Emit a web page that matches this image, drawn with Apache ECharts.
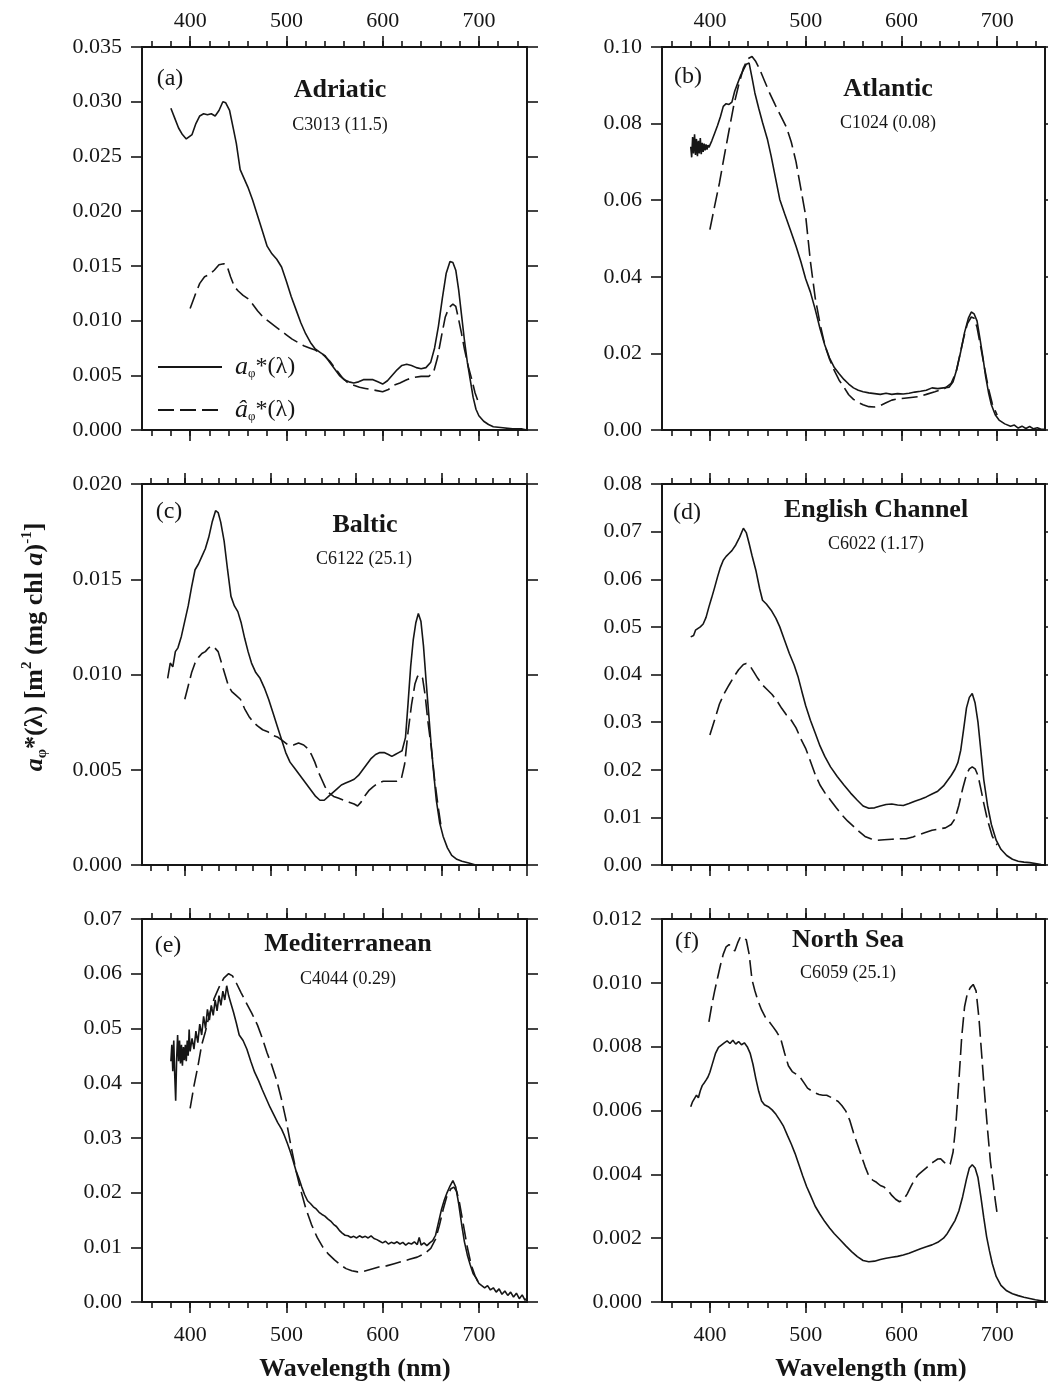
<!DOCTYPE html>
<html>
<head>
<meta charset="UTF-8">
<script src="https://cdn.jsdelivr.net/npm/echarts@6.0.0/dist/echarts.min.js"></script>
<style>
    html, body {margin: 0; padding: 0; background: #fff;}
    #chart {width: 1048px; height: 1383px;}
</style>
</head>
<body>
<div id="chart"></div>
<script>
    /* spectra: [wavelength nm, value] */
    var adriaticMeasured = [[380,0.0294],[384,0.0285],[388,0.0276],[392,0.0270],[396,0.0266],[398,0.0265],[402,0.0270],[406,0.0280],[410,0.0287],[414,0.0289],[418,0.0288],[422,0.0289],[426,0.0287],[430,0.0292],[434,0.0300],[437,0.0299],[441,0.0292],[445,0.0275],[448,0.0262],[452,0.0238],[456,0.0230],[460,0.0222],[465,0.0210],[470,0.0196],[475,0.0182],[480,0.0168],[485,0.0161],[490,0.0156],[495,0.0149],[500,0.0136],[505,0.0122],[510,0.0110],[515,0.0098],[520,0.0088],[525,0.0080],[530,0.0074],[535,0.0071],[540,0.0068],[545,0.0062],[550,0.0056],[555,0.0050],[560,0.0046],[565,0.0044],[570,0.0043],[575,0.0044],[580,0.0046],[585,0.0046],[590,0.0046],[595,0.0044],[600,0.0042],[605,0.0045],[610,0.0050],[615,0.0055],[620,0.0059],[625,0.0060],[630,0.0059],[635,0.0057],[640,0.0056],[645,0.0057],[650,0.0062],[654,0.0075],[658,0.0095],[662,0.0120],[666,0.0143],[670,0.0154],[673,0.0153],[676,0.0146],[679,0.0128],[682,0.0105],[685,0.0082],[688,0.0062],[691,0.0046],[694,0.0030],[697,0.0019],[700,0.0013],[705,0.0008],[710,0.0005],[715,0.0003],[725,0.0002],[735,0.0001],[745,0.0001],[750,0.0000]];
    var adriaticModeled = [[400,0.0111],[405,0.0123],[410,0.0134],[415,0.0140],[420,0.0142],[425,0.0146],[430,0.0151],[435,0.0152],[438,0.0151],[442,0.0140],[446,0.0131],[450,0.0127],[455,0.0123],[460,0.0120],[465,0.0115],[470,0.0109],[476,0.0103],[482,0.0099],[488,0.0095],[494,0.0091],[500,0.0087],[506,0.0083],[512,0.0080],[518,0.0077],[524,0.0075],[530,0.0073],[538,0.0069],[545,0.0063],[552,0.0055],[558,0.0048],[564,0.0043],[570,0.0041],[576,0.0039],[582,0.0038],[588,0.0037],[594,0.0036],[600,0.0035],[606,0.0037],[612,0.0041],[618,0.0043],[625,0.0046],[632,0.0048],[640,0.0049],[648,0.0049],[653,0.0053],[657,0.0066],[661,0.0085],[665,0.0103],[669,0.0112],[673,0.0115],[676,0.0113],[679,0.0101],[682,0.0088],[685,0.0074],[689,0.0058],[693,0.0045],[696,0.0034],[700,0.0024]];

    var atlanticMeasured = [[380,0.0740],[381,0.0712],[382,0.0765],[383,0.0722],[384,0.0772],[385,0.0718],[386,0.0760],[387,0.0715],[388,0.0755],[389,0.0722],[390,0.0762],[391,0.0720],[392,0.0750],[393,0.0726],[394,0.0748],[395,0.0730],[396,0.0746],[397,0.0732],[398,0.0744],[399,0.0738],[402,0.0755],[405,0.0775],[408,0.0795],[411,0.0818],[414,0.0845],[417,0.0852],[420,0.0850],[423,0.0856],[426,0.0885],[429,0.0905],[432,0.0925],[435,0.0940],[438,0.0955],[441,0.0958],[444,0.0920],[447,0.0880],[451,0.0840],[455,0.0803],[460,0.0760],[464,0.0715],[468,0.0665],[473,0.0602],[478,0.0565],[484,0.0523],[490,0.0480],[495,0.0440],[500,0.0395],[505,0.0360],[510,0.0315],[515,0.0265],[520,0.0222],[525,0.0188],[530,0.0163],[535,0.0147],[540,0.0132],[545,0.0120],[550,0.0110],[555,0.0104],[560,0.0100],[566,0.0097],[572,0.0095],[578,0.0093],[584,0.0096],[590,0.0093],[596,0.0095],[602,0.0094],[608,0.0096],[614,0.0099],[620,0.0101],[626,0.0104],[632,0.0110],[638,0.0108],[644,0.0110],[650,0.0112],[654,0.0126],[658,0.0160],[662,0.0205],[666,0.0255],[670,0.0292],[673,0.0308],[676,0.0303],[679,0.0285],[682,0.0240],[685,0.0192],[688,0.0140],[691,0.0098],[694,0.0066],[698,0.0040],[702,0.0026],[708,0.0016],[714,0.0010],[718,0.0013],[722,0.0005],[726,0.0010],[730,0.0004],[734,0.0009],[738,0.0003],[742,0.0006],[746,0.0002],[750,0.0002]];
    var atlanticModeled = [[400,0.0523],[405,0.0585],[410,0.0645],[415,0.0715],[420,0.0782],[425,0.0848],[430,0.0900],[435,0.0945],[440,0.0970],[444,0.0975],[448,0.0962],[452,0.0942],[457,0.0912],[462,0.0882],[468,0.0850],[474,0.0820],[480,0.0790],[485,0.0752],[490,0.0700],[495,0.0630],[500,0.0560],[505,0.0440],[510,0.0345],[515,0.0278],[520,0.0222],[525,0.0185],[530,0.0155],[535,0.0130],[540,0.0112],[545,0.0092],[550,0.0080],[555,0.0072],[560,0.0066],[566,0.0061],[572,0.0060],[578,0.0064],[584,0.0071],[590,0.0078],[596,0.0081],[603,0.0083],[610,0.0085],[618,0.0087],[626,0.0093],[635,0.0100],[645,0.0108],[652,0.0122],[657,0.0150],[661,0.0195],[665,0.0240],[669,0.0278],[673,0.0295],[676,0.0292],[679,0.0268],[683,0.0215],[687,0.0160],[691,0.0108],[695,0.0068],[700,0.0039]];

    var balticMeasured = [[380,0.0098],[383,0.0106],[386,0.0104],[389,0.0112],[392,0.0114],[396,0.0120],[400,0.0128],[404,0.0136],[408,0.0146],[412,0.0155],[416,0.0158],[420,0.0162],[424,0.0166],[428,0.0172],[432,0.0180],[436,0.0186],[439,0.0185],[442,0.0180],[446,0.0170],[450,0.0155],[454,0.0141],[458,0.0136],[462,0.0133],[466,0.0127],[470,0.0119],[474,0.0112],[478,0.0106],[483,0.0101],[488,0.0098],[493,0.0093],[498,0.0087],[503,0.0080],[508,0.0073],[513,0.0066],[518,0.0059],[523,0.0054],[528,0.0051],[533,0.0048],[538,0.0045],[543,0.0042],[548,0.0039],[553,0.0036],[558,0.0034],[563,0.0034],[568,0.0036],[573,0.0038],[578,0.0040],[583,0.0042],[588,0.0043],[593,0.0044],[598,0.0045],[603,0.0047],[608,0.0050],[613,0.0053],[618,0.0056],[623,0.0058],[628,0.0059],[633,0.0059],[638,0.0058],[642,0.0057],[646,0.0058],[650,0.0059],[654,0.0060],[658,0.0067],[661,0.0085],[664,0.0104],[667,0.0118],[670,0.0127],[673,0.0132],[676,0.0128],[679,0.0115],[682,0.0097],[685,0.0080],[688,0.0063],[691,0.0048],[694,0.0034],[698,0.0022],[702,0.0015],[707,0.0009],[712,0.0005],[718,0.0003],[724,0.0002],[732,0.0001],[740,0.0000],[748,0.0000]];
    var balticModeled = [[400,0.0087],[404,0.0094],[408,0.0101],[412,0.0106],[416,0.0109],[420,0.0111],[424,0.0112],[428,0.0114],[431,0.0115],[435,0.0114],[439,0.0112],[443,0.0106],[447,0.0100],[451,0.0094],[455,0.0091],[460,0.0089],[465,0.0087],[470,0.0082],[475,0.0078],[480,0.0075],[485,0.0073],[491,0.0071],[497,0.0070],[503,0.0068],[509,0.0067],[515,0.0065],[521,0.0063],[527,0.0063],[533,0.0064],[539,0.0063],[544,0.0061],[548,0.0058],[552,0.0054],[556,0.0049],[560,0.0045],[564,0.0041],[568,0.0038],[574,0.0036],[580,0.0035],[586,0.0034],[592,0.0033],[598,0.0032],[602,0.0031],[606,0.0033],[610,0.0036],[615,0.0039],[620,0.0041],[626,0.0043],[632,0.0044],[638,0.0044],[643,0.0044],[648,0.0044],[653,0.0045],[657,0.0053],[661,0.0070],[665,0.0084],[669,0.0095],[672,0.0099],[675,0.0100],[678,0.0098],[681,0.0089],[684,0.0076],[688,0.0062],[692,0.0045],[696,0.0031],[700,0.0019]];

    var channelMeasured = [[380,0.0479],[383,0.0482],[385,0.0493],[387,0.0490],[390,0.0500],[393,0.0506],[396,0.0520],[399,0.0542],[402,0.0562],[405,0.0583],[408,0.0605],[411,0.0625],[414,0.0640],[417,0.0648],[420,0.0654],[423,0.0660],[427,0.0672],[431,0.0688],[435,0.0707],[438,0.0698],[441,0.0675],[444,0.0650],[448,0.0619],[452,0.0580],[455,0.0556],[459,0.0548],[464,0.0535],[469,0.0518],[473,0.0500],[478,0.0472],[483,0.0444],[488,0.0420],[492,0.0396],[496,0.0365],[500,0.0335],[505,0.0304],[510,0.0277],[515,0.0250],[520,0.0228],[526,0.0206],[533,0.0186],[540,0.0168],[547,0.0151],[554,0.0136],[560,0.0124],[566,0.0119],[572,0.0120],[578,0.0124],[584,0.0127],[590,0.0128],[596,0.0126],[602,0.0125],[608,0.0129],[614,0.0134],[620,0.0138],[626,0.0143],[632,0.0149],[638,0.0155],[644,0.0166],[648,0.0177],[652,0.0188],[656,0.0201],[659,0.0215],[662,0.0241],[665,0.0285],[668,0.0330],[671,0.0352],[674,0.0360],[677,0.0340],[680,0.0300],[683,0.0240],[686,0.0180],[690,0.0125],[694,0.0085],[699,0.0052],[704,0.0033],[710,0.0020],[716,0.0012],[722,0.0008],[728,0.0006],[734,0.0005],[740,0.0003],[746,0.0001],[750,0.0000]];
    var channelModeled = [[400,0.0273],[405,0.0305],[410,0.0338],[415,0.0360],[420,0.0378],[425,0.0395],[430,0.0410],[435,0.0421],[438,0.0423],[442,0.0418],[446,0.0405],[450,0.0392],[455,0.0378],[460,0.0368],[465,0.0358],[470,0.0345],[475,0.0329],[480,0.0315],[485,0.0304],[490,0.0288],[495,0.0265],[500,0.0245],[505,0.0218],[510,0.0190],[515,0.0168],[520,0.0152],[526,0.0136],[532,0.0120],[538,0.0105],[544,0.0092],[550,0.0081],[556,0.0070],[562,0.0060],[568,0.0055],[575,0.0052],[582,0.0053],[590,0.0054],[598,0.0055],[605,0.0055],[612,0.0059],[618,0.0063],[625,0.0068],[632,0.0073],[640,0.0076],[646,0.0078],[652,0.0085],[656,0.0097],[660,0.0125],[664,0.0160],[668,0.0190],[671,0.0202],[674,0.0206],[677,0.0202],[680,0.0188],[683,0.0160],[686,0.0130],[690,0.0094],[695,0.0060],[700,0.0042]];

    var mediterraneanMeasured = [[380,0.0440],[381,0.0470],[382,0.0422],[383,0.0478],[384,0.0415],[385,0.0368],[386,0.0445],[387,0.0488],[388,0.0440],[389,0.0478],[390,0.0436],[391,0.0470],[392,0.0432],[393,0.0466],[394,0.0442],[395,0.0470],[396,0.0440],[397,0.0478],[398,0.0450],[399,0.0498],[400,0.0458],[402,0.0482],[404,0.0462],[406,0.0495],[408,0.0474],[410,0.0508],[412,0.0488],[414,0.0522],[416,0.0500],[418,0.0535],[420,0.0515],[422,0.0542],[424,0.0524],[426,0.0552],[428,0.0532],[430,0.0560],[432,0.0542],[434,0.0568],[436,0.0552],[438,0.0578],[440,0.0560],[442,0.0548],[445,0.0530],[448,0.0510],[451,0.0488],[455,0.0478],[459,0.0462],[463,0.0440],[467,0.0420],[471,0.0405],[475,0.0388],[479,0.0372],[483,0.0356],[487,0.0342],[491,0.0328],[495,0.0316],[498,0.0304],[501,0.0290],[504,0.0275],[507,0.0258],[510,0.0240],[513,0.0226],[516,0.0210],[519,0.0196],[522,0.0185],[525,0.0180],[528,0.0174],[531,0.0170],[534,0.0164],[537,0.0160],[540,0.0157],[543,0.0152],[546,0.0148],[549,0.0142],[552,0.0138],[555,0.0131],[558,0.0126],[561,0.0122],[564,0.0121],[567,0.0118],[570,0.0120],[573,0.0117],[576,0.0121],[579,0.0118],[582,0.0120],[585,0.0117],[588,0.0121],[591,0.0116],[594,0.0114],[597,0.0111],[600,0.0108],[603,0.0111],[606,0.0106],[609,0.0109],[612,0.0107],[615,0.0110],[618,0.0106],[621,0.0109],[624,0.0104],[627,0.0108],[630,0.0106],[633,0.0110],[636,0.0105],[638,0.0118],[640,0.0104],[643,0.0108],[646,0.0103],[649,0.0108],[652,0.0112],[655,0.0122],[658,0.0145],[661,0.0168],[664,0.0186],[667,0.0200],[670,0.0212],[673,0.0222],[676,0.0210],[679,0.0180],[682,0.0143],[685,0.0110],[688,0.0086],[691,0.0068],[694,0.0052],[697,0.0044],[700,0.0034],[703,0.0030],[706,0.0026],[709,0.0030],[712,0.0022],[715,0.0026],[718,0.0018],[721,0.0024],[724,0.0014],[727,0.0020],[730,0.0012],[733,0.0018],[736,0.0009],[739,0.0016],[742,0.0006],[745,0.0013],[748,0.0003],[750,0.0008]];
    var mediterraneanModeled = [[400,0.0354],[404,0.0395],[408,0.0430],[412,0.0470],[416,0.0495],[420,0.0525],[425,0.0555],[430,0.0575],[435,0.0592],[440,0.0600],[444,0.0596],[448,0.0583],[453,0.0565],[458,0.0548],[464,0.0528],[470,0.0506],[475,0.0482],[480,0.0455],[485,0.0432],[490,0.0405],[495,0.0370],[500,0.0330],[505,0.0283],[510,0.0240],[515,0.0204],[520,0.0172],[526,0.0142],[532,0.0118],[538,0.0100],[544,0.0087],[550,0.0077],[556,0.0068],[562,0.0061],[568,0.0057],[574,0.0055],[580,0.0056],[588,0.0060],[596,0.0064],[604,0.0066],[612,0.0070],[620,0.0074],[628,0.0078],[636,0.0082],[644,0.0089],[650,0.0098],[655,0.0115],[659,0.0140],[663,0.0170],[667,0.0195],[671,0.0207],[674,0.0210],[677,0.0202],[680,0.0180],[684,0.0140],[688,0.0100],[692,0.0068],[696,0.0048],[700,0.0034]];

    var northSeaMeasured = [[380,0.00612],[382,0.00628],[384,0.00622],[386,0.00648],[388,0.00640],[390,0.00662],[392,0.00678],[394,0.00686],[396,0.00695],[398,0.00705],[400,0.00720],[403,0.00750],[406,0.00780],[409,0.00798],[412,0.00805],[415,0.00812],[418,0.00818],[421,0.00810],[424,0.00820],[427,0.00808],[430,0.00816],[433,0.00806],[436,0.00812],[439,0.00800],[442,0.00780],[445,0.00745],[448,0.00700],[451,0.00660],[454,0.00630],[457,0.00618],[461,0.00612],[465,0.00602],[469,0.00588],[473,0.00570],[477,0.00550],[481,0.00522],[485,0.00495],[489,0.00465],[493,0.00430],[497,0.00395],[501,0.00362],[505,0.00335],[510,0.00300],[515,0.00275],[520,0.00252],[525,0.00232],[530,0.00214],[536,0.00195],[542,0.00176],[548,0.00158],[554,0.00142],[560,0.00130],[566,0.00126],[572,0.00128],[578,0.00133],[584,0.00137],[590,0.00140],[596,0.00143],[602,0.00147],[608,0.00153],[614,0.00160],[620,0.00167],[626,0.00173],[632,0.00179],[638,0.00187],[644,0.00200],[648,0.00215],[652,0.00235],[656,0.00255],[660,0.00285],[664,0.00330],[668,0.00385],[671,0.00420],[674,0.00430],[677,0.00420],[680,0.00390],[683,0.00330],[686,0.00265],[689,0.00205],[692,0.00160],[695,0.00120],[699,0.00080],[704,0.00052],[710,0.00035],[716,0.00026],[722,0.00020],[728,0.00015],[734,0.00011],[740,0.00007],[746,0.00004],[750,0.00002]];
    var northSeaModeled = [[399,0.00878],[402,0.00930],[405,0.00975],[408,0.01015],[411,0.01055],[414,0.01090],[417,0.01113],[420,0.01120],[423,0.01110],[426,0.01100],[429,0.01125],[432,0.01145],[435,0.01140],[438,0.01135],[441,0.01090],[444,0.01010],[447,0.00975],[450,0.00946],[454,0.00915],[458,0.00892],[462,0.00878],[466,0.00862],[470,0.00845],[474,0.00825],[478,0.00780],[482,0.00740],[486,0.00722],[490,0.00714],[494,0.00705],[498,0.00688],[502,0.00670],[506,0.00662],[510,0.00655],[514,0.00650],[518,0.00648],[522,0.00648],[526,0.00642],[530,0.00635],[534,0.00628],[538,0.00615],[542,0.00598],[546,0.00570],[550,0.00530],[554,0.00495],[558,0.00460],[562,0.00425],[566,0.00395],[570,0.00382],[574,0.00375],[578,0.00365],[582,0.00360],[586,0.00350],[590,0.00334],[594,0.00322],[598,0.00314],[602,0.00320],[606,0.00338],[610,0.00362],[614,0.00385],[618,0.00400],[622,0.00410],[626,0.00420],[630,0.00432],[634,0.00440],[638,0.00448],[641,0.00449],[644,0.00440],[648,0.00428],[651,0.00432],[654,0.00470],[657,0.00560],[660,0.00690],[663,0.00830],[666,0.00925],[669,0.00968],[672,0.00985],[675,0.00995],[678,0.00975],[681,0.00890],[684,0.00770],[687,0.00650],[690,0.00540],[693,0.00440],[696,0.00370],[698,0.00320],[700,0.00277]];

    /* panel texts and axis ranges */
    var panelLetters = ['(a)', '(b)', '(c)', '(d)', '(e)', '(f)'];
    var panelTitles = ['Adriatic', 'Atlantic', 'Baltic', 'English Channel', 'Mediterranean', 'North Sea'];
    var panelStations = ['C3013 (11.5)', 'C1024 (0.08)', 'C6122 (25.1)', 'C6022 (1.17)', 'C4044 (0.29)', 'C6059 (25.1)'];
    var yMaxes = [0.035, 0.10, 0.020, 0.08, 0.07, 0.012];
    var ySteps = [0.005, 0.02, 0.005, 0.01, 0.01, 0.002];
    var yDecimals = [3, 2, 3, 2, 2, 3];
    var xMaxes = [750, 750, 800, 750, 750, 750];
    var measured = [adriaticMeasured, atlanticMeasured, balticMeasured, channelMeasured, mediterraneanMeasured, northSeaMeasured];
    var modeled = [adriaticModeled, atlanticModeled, balticModeled, channelModeled, mediterraneanModeled, northSeaModeled];

    /* layout (px) */
    var colLeft = [142, 662], colWidth = [385, 383];
    var rowTop = [47, 484, 919], rowHeight = [383, 381, 383];
    var FONT = "'Liberation Serif', 'DejaVu Serif', serif";
    var INK = '#161616';

    var chart = echarts.init(document.getElementById('chart'), null, {renderer: 'canvas'});

    var grids = [], xAxes = [], yAxes = [], series = [], graphics = [];

    function tickAxis(gridIndex, min, max, interval, pos, len, labels, margin) {
        return {
            gridIndex: gridIndex, type: 'value', position: pos,
            min: min, max: max, interval: interval,
            axisLine: {show: false},
            axisTick: {show: true, length: len, lineStyle: {color: INK, width: 1.6}},
            minorTick: {show: false},
            splitLine: {show: false},
            axisLabel: {show: labels, margin: margin, color: INK, fontFamily: FONT, fontSize: 22,
                showMinLabel: true, showMaxLabel: true}
        };
    }

    function hiddenY(gridIndex) {
        return {gridIndex: gridIndex, type: 'value', min: 0, max: 1, show: false};
    }

    for (var i = 0; i < 6; i++) {
        var col = i % 2, row = Math.floor(i / 2);
        var L = colLeft[col], W = colWidth[col], T = rowTop[row], H = rowHeight[row];
        var xMax = xMaxes[i];
        var ppn = W / (xMax - 350);
        var majMax = xMax === 800 ? 800 : 700;
        var minMax = xMax === 800 ? 780 : 740;

        // main plotting grid with the frame
        var g = grids.length;
        grids.push({left: L, top: T, width: W, height: H, show: true, borderColor: INK, borderWidth: 2,
            backgroundColor: 'transparent', containLabel: false, outerBoundsMode: 'none'});
        var xi = xAxes.length;
        xAxes.push({gridIndex: g, type: 'value', min: 350, max: xMax, show: false});
        var yi = yAxes.length;
        var dec = yDecimals[i];
        var yCommon = {
            gridIndex: g, type: 'value', min: 0, max: yMaxes[i], interval: ySteps[i],
            axisLine: {show: true, lineStyle: {color: INK, width: 2}},
            axisTick: {show: true, length: 11, lineStyle: {color: INK, width: 1.6}},
            splitLine: {show: false}
        };
        yAxes.push(Object.assign({}, yCommon, {
            position: 'left',
            axisLabel: {show: true, margin: 20, color: INK, fontFamily: FONT, fontSize: 22,
                formatter: (function (d) { return function (v) { return v.toFixed(d); }; })(dec)}
        }));
        yAxes.push(Object.assign({}, yCommon, {position: 'right', axisLabel: {show: false}}));

        // major ticks (every 100 nm) on a grid spanning 400..majMax
        var gm = grids.length;
        grids.push({left: L + 50 * ppn, top: T, width: (majMax - 400) * ppn, height: H, show: false,
            containLabel: false, outerBoundsMode: 'none'});
        xAxes.push(tickAxis(gm, 400, majMax, 100, 'bottom', 11, row === 2, 22));
        xAxes.push(tickAxis(gm, 400, majMax, 100, 'top', 11, row === 0, 15));
        yAxes.push(hiddenY(gm));

        // minor ticks (every 20 nm) on a grid spanning 360..minMax
        var gn = grids.length;
        grids.push({left: L + 10 * ppn, top: T, width: (minMax - 360) * ppn, height: H, show: false,
            containLabel: false, outerBoundsMode: 'none'});
        xAxes.push(tickAxis(gn, 360, minMax, 20, 'bottom', 6, false, 8));
        xAxes.push(tickAxis(gn, 360, minMax, 20, 'top', 6, false, 8));
        yAxes.push(hiddenY(gn));

        series.push({
            name: 'measured', type: 'line', xAxisIndex: xi, yAxisIndex: yi,
            data: measured[i], symbol: 'none', showSymbol: false, smooth: false,
            lineStyle: {color: INK, width: 1.6}, itemStyle: {color: INK}, z: 3
        });
        series.push({
            name: 'modeled', type: 'line', xAxisIndex: xi, yAxisIndex: yi,
            data: modeled[i], symbol: 'none', showSymbol: false, smooth: false,
            lineStyle: {color: INK, width: 1.6, type: [16, 6]}, itemStyle: {color: INK}, z: 4
        });
    }

    /* panel annotations: letter, region, station */
    var letterPos = [[170, 79], [688, 77], [169, 512], [687, 513], [168, 946], [687, 942]];
    var titlePos = [[340, 90], [888, 89], [365, 525], [876, 510], [348, 944], [848, 940]];
    var stationPos = [[340, 125], [888, 123], [364, 559], [876, 544], [348, 979], [848, 973]];

    function label(x, y, text, size, weight) {
        return {
            type: 'text', x: x, y: y, z: 10,
            style: {text: text, fontFamily: FONT, fontSize: size, fontWeight: weight || 'normal', fill: INK,
                align: 'center', verticalAlign: 'middle', textAlign: 'center', textVerticalAlign: 'middle'}
        };
    }

    for (var k = 0; k < 6; k++) {
        graphics.push(label(letterPos[k][0], letterPos[k][1], panelLetters[k], 24));
        graphics.push(label(titlePos[k][0], titlePos[k][1], panelTitles[k], 26, 'bold'));
        graphics.push(label(stationPos[k][0], stationPos[k][1], panelStations[k], 18));
    }
    graphics.push(label(355, 1369, 'Wavelength (nm)', 26, 'bold'));
    graphics.push(label(871, 1369, 'Wavelength (nm)', 26, 'bold'));

    /* rotated y-axis title */
    graphics.push({
        type: 'text', x: 35, y: 647, rotation: Math.PI / 2, z: 10,
        style: {
            text: '{ib|a}{sub|φ}{b|*(λ) [m}{sup|2}{b| (mg chl }{ib|a}{b|)}{sup|-1}{b|]}',
            fontFamily: FONT, fontSize: 26, fontWeight: 'bold', fill: INK,
            align: 'center', verticalAlign: 'middle', textAlign: 'center', textVerticalAlign: 'middle',
            rich: {
                b: {fontFamily: FONT, fontSize: 26, fontWeight: 'bold', color: INK, lineHeight: 30, verticalAlign: 'middle'},
                ib: {fontFamily: FONT, fontSize: 26, fontWeight: 'bold', fontStyle: 'italic', color: INK, lineHeight: 30, verticalAlign: 'middle'},
                sub: {fontFamily: FONT, fontSize: 15, fontWeight: 'bold', color: INK, lineHeight: 30, verticalAlign: 'bottom'},
                sup: {fontFamily: FONT, fontSize: 15, fontWeight: 'bold', color: INK, lineHeight: 30, verticalAlign: 'top'}
            }
        }
    });

    var option = {
        backgroundColor: '#ffffff',
        animation: false,
        grid: grids,
        xAxis: xAxes,
        yAxis: yAxes,
        legend: {
            show: true, data: ['measured', 'modeled'], orient: 'vertical',
            left: 152, top: 349, itemWidth: 64, itemHeight: 14, itemGap: 17, selectedMode: false,
            itemStyle: {color: 'transparent', borderColor: 'transparent', borderWidth: 0, opacity: 0},
            formatter: function (name) {
                return name === 'measured' ? '{i|a}{s|φ}{n|*(λ)}' : '{i|â}{s|φ}{n|*(λ)}';
            },
            textStyle: {
                color: INK, fontFamily: FONT, fontSize: 24, padding: [0, 0, 0, 8],
                rich: {
                    i: {fontFamily: FONT, fontSize: 26, fontStyle: 'italic', color: INK, lineHeight: 26},
                    s: {fontFamily: FONT, fontSize: 13, color: INK, lineHeight: 26, verticalAlign: 'bottom'},
                    n: {fontFamily: FONT, fontSize: 24, color: INK, lineHeight: 26}
                }
            }
        },
        graphic: graphics,
        series: series
    };

    chart.setOption(option);

    window.addEventListener('resize', function () {
        chart.resize();
    });
</script>
</body>
</html>
